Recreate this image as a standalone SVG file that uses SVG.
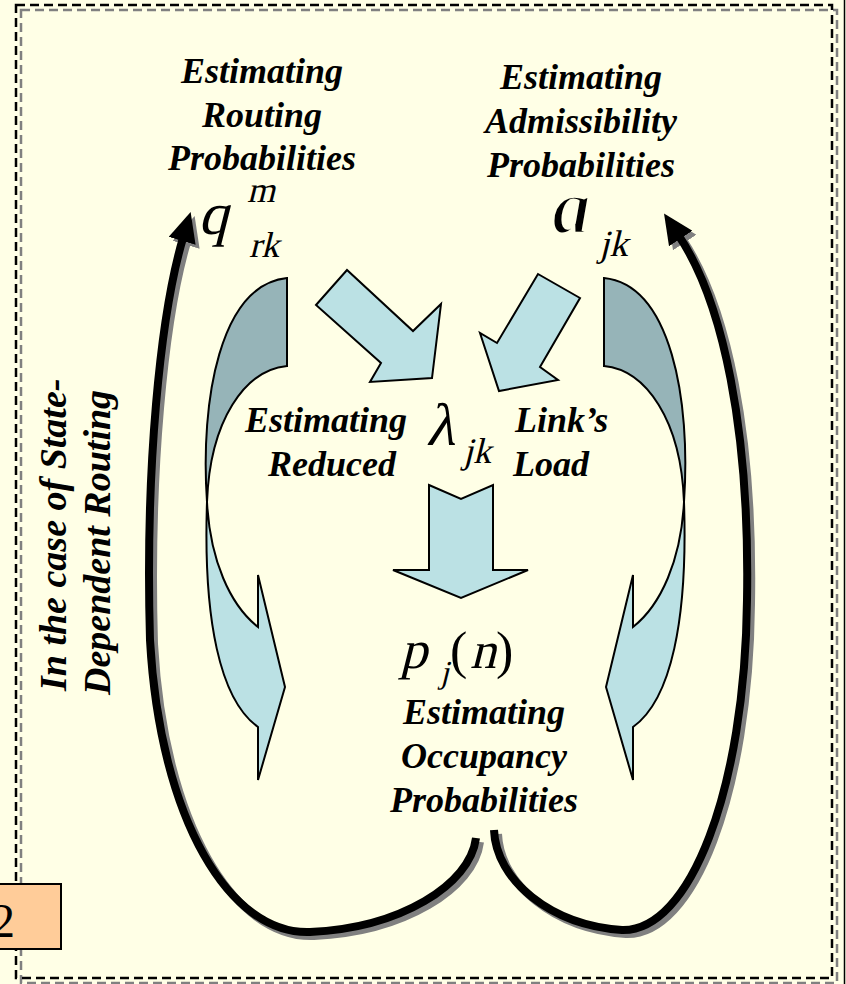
<svg xmlns="http://www.w3.org/2000/svg" width="846" height="984" viewBox="0 0 846 984">
  <style>
    .lbl { font-family: "Liberation Serif", "Times New Roman", serif; font-weight: bold; font-style: italic; font-size: 36px; fill: #000; }
    .side { font-size: 38px; }
    .math { font-family: "Liberation Serif", "Times New Roman", serif; font-style: normal; font-weight: normal; fill: #000; }
    .slim { font-family: "Liberation Serif", "Times New Roman", serif; font-style: italic; font-weight: bold; fill: #000; stroke: #FFFFE6; stroke-width: 3; }
    .frame { fill: none; stroke-width: 2.5; stroke-dasharray: 9 5; }
    .loop { fill: none; stroke: #000; stroke-width: 8; stroke-linecap: butt; }
    .loop-shadow { fill: none; stroke: #808080; stroke-width: 8; stroke-linecap: butt; }
    .block { fill: #BBE1E4; stroke: #000; stroke-width: 2; stroke-linejoin: miter; }
    .back { fill: #96B4B8; stroke: #000; stroke-width: 2; }
  </style>
  <defs>
    <marker id="head" markerUnits="userSpaceOnUse" viewBox="0 0 30 28" refX="3" refY="14" markerWidth="30" markerHeight="28" orient="auto">
      <path d="M0,0 L30,14 L0,28 z" fill="#000"/>
    </marker>
    <marker id="head-shadow" markerUnits="userSpaceOnUse" viewBox="0 0 30 28" refX="3" refY="14" markerWidth="30" markerHeight="28" orient="auto">
      <path d="M0,0 L30,14 L0,28 z" fill="#808080"/>
    </marker>
    <!-- curved ribbon arrow, left-hand version; the right one is its mirror -->
    <g id="ribbon">
      <path class="back" d="M287,278 L287,366 C245,370 210,420 207,502 C200,400 220,285 287,278 Z"/>
      <path class="block" d="M207,502 C203,620 220,700 258,727 L258,780 L285,687 L258,575 L258,627 C230,605 210,560 207,502 Z"/>
    </g>
  </defs>

  <rect x="0" y="0" width="846" height="984" fill="#FFFFE6"/>

  <g id="frame">
    <rect class="frame" x="21" y="10" width="816" height="973" stroke="#808080"/>
    <rect class="frame" x="16" y="5" width="816" height="973" stroke="#000"/>
    <line x1="844.5" y1="0" x2="844.5" y2="984" stroke="#000" stroke-width="1.5"/>
  </g>

  <g id="connectors">
    <!-- feedback loops, shadow first -->
    <g transform="translate(4,4)">
      <path class="loop-shadow" marker-end="url(#head-shadow)" d="M476,838 C470,885 400,928 310,932 C230,935 160,820 150,640 C145,470 160,316 183,238"/>
      <path class="loop-shadow" marker-end="url(#head-shadow)" d="M494,830 C496,880 550,925 622,930 C690,932 745,790 747,600 C750,430 723,302 679,236"/>
    </g>
    <path class="loop" marker-end="url(#head)" d="M476,838 C470,885 400,928 310,932 C230,935 160,820 150,640 C145,470 160,316 183,238"/>
    <path class="loop" marker-end="url(#head)" d="M494,830 C496,880 550,925 622,930 C690,932 745,790 747,600 C750,430 723,302 679,236"/>

    <!-- ribbon arrows at the sides -->
    <use href="#ribbon"/>
    <use href="#ribbon" transform="translate(891,0) scale(-1,1)"/>

    <!-- block arrows into and out of the link load -->
    <polygon class="block" points="316,305 347,270 413,331 441,304 432,378 370,382 381,363"/>
    <polygon class="block" points="538,274 580,298 540,367 558,380 499,391 480,333 497,343"/>
    <polygon class="block" points="429,485 461,499 493,485 493,570 528,570 461,598 393,570 429,570"/>
  </g>

  <g id="routing">
    <text class="lbl" x="262" y="83" text-anchor="middle">Estimating</text>
    <text class="lbl" x="262" y="127" text-anchor="middle">Routing</text>
    <text class="lbl" x="262" y="170" text-anchor="middle">Probabilities</text>
    <text class="math" font-size="60" transform="translate(198,234) skewX(-14)">q</text>
    <text class="math" font-size="36" transform="translate(247,202) skewX(-14)">m</text>
    <text class="math" font-size="36" transform="translate(249,257) skewX(-14)">rk</text>
  </g>

  <g id="admissibility">
    <text class="lbl" x="581" y="89" text-anchor="middle">Estimating</text>
    <text class="lbl" x="581" y="133" text-anchor="middle">Admissibility</text>
    <text class="lbl" x="581" y="177" text-anchor="middle">Probabilities</text>
    <text class="slim" font-size="78" x="552" y="233">a</text>
    <text class="math" font-size="37" transform="translate(599,256) skewX(-14)">jk</text>
  </g>

  <g id="link-load">
    <text class="lbl" x="245" y="432">Estimating</text>
    <text class="lbl" x="268" y="476">Reduced</text>
    <text class="math" font-size="60" transform="translate(426,445) skewX(-12)">λ</text>
    <text class="math" font-size="36" transform="translate(463,463) skewX(-14)">jk</text>
    <text class="lbl" x="515" y="432">Link’s</text>
    <text class="lbl" x="513" y="476">Load</text>
  </g>

  <g id="occupancy">
    <text class="math" font-size="54" transform="translate(400,668) skewX(-14)">p</text>
    <text class="math" font-size="32" transform="translate(440,683) skewX(-14)">j</text>
    <text class="math" font-size="52" x="450" y="668">(</text>
    <text class="math" font-size="52" transform="translate(470,668) skewX(-14)">n</text>
    <text class="math" font-size="52" x="496" y="668">)</text>
    <text class="lbl" x="484" y="724" text-anchor="middle">Estimating</text>
    <text class="lbl" x="484" y="768" text-anchor="middle">Occupancy</text>
    <text class="lbl" x="484" y="812" text-anchor="middle">Probabilities</text>
  </g>

  <g id="state-dependent">
    <text class="lbl side" transform="translate(66,691) rotate(-90)">In the case of State-</text>
    <text class="lbl side" transform="translate(110,695) rotate(-90)">Dependent Routing</text>
  </g>

  <g id="badge">
    <rect x="-2" y="884" width="63" height="65" fill="#FFCC99" stroke="#000" stroke-width="2"/>
    <text x="-9" y="937" font-family="Liberation Serif, Times New Roman, serif" font-size="48">2</text>
  </g>
</svg>
